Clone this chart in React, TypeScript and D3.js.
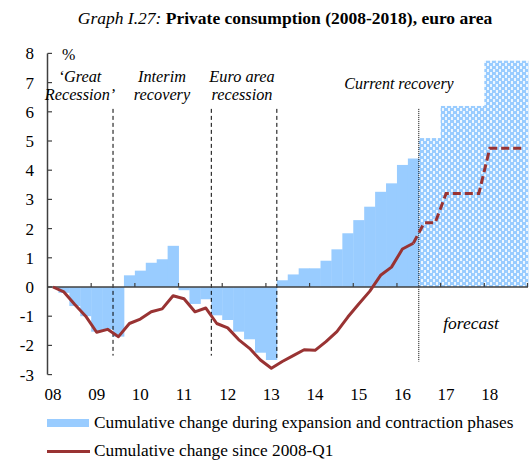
import React from "react";
import * as d3 from "d3";

// ---- data ----
const years = ["08", "09", "10", "11", "12", "13", "14", "15", "16", "17", "18"];
const quarters: string[] = years.flatMap((y) => ["Q1", "Q2", "Q3", "Q4"].map((q) => `20${y}${q}`));

// cumulative change during phases (08Q1 .. 16Q2)
const phaseBars = [
  0, -0.2, -0.65, -1.0,
  -1.53, -1.45, -1.7, 0.4,
  0.56, 0.83, 0.95, 1.41,
  -0.11, -0.58, -0.42, -0.97,
  -1.13, -1.53, -1.79, -2.25,
  -2.5, 0.23, 0.43, 0.64,
  0.64, 0.9, 1.29, 1.84,
  2.29, 2.75, 3.26, 3.55,
  4.18, 4.4,
];
// forecast phase bars (16Q3 .. 18Q4)
const forecastBars = [5.1, 5.1, 6.2, 6.2, 6.2, 6.2, 7.75, 7.75, 7.75, 7.75];

// cumulative change since 2008-Q1 (08Q1 .. 16Q2)
const cumLine = [
  0, -0.17, -0.6, -1.0,
  -1.55, -1.45, -1.7, -1.25,
  -1.1, -0.85, -0.75, -0.3,
  -0.4, -0.85, -0.72, -1.25,
  -1.4, -1.8, -2.1, -2.5,
  -2.78, -2.55, -2.35, -2.15,
  -2.17, -1.87, -1.53, -1.03,
  -0.58, -0.15, 0.4, 0.68,
  1.3, 1.5,
];
// forecast line (16Q2 .. 18Q4)
const forecastLine = [1.5, 2.2, 2.2, 3.2, 3.2, 3.2, 3.2, 4.75, 4.75, 4.75, 4.75];

const yTicks = [-3, -2, -1, 0, 1, 2, 3, 4, 5, 6, 7, 8];
// phase boundaries (quarter index where the next phase starts) and the span of the marker line
const phaseBoundaries = [6, 15, 21, 34];
const boundaryBottoms = [-2.35, -2.35, -2.5, -2.55];
const boundaryTop = 6.1;

const phaseLabels = [
  { lines: ["\u2018Great", "Recession\u2019"], x: 80 },
  { lines: ["Interim", "recovery"], x: 162 },
  { lines: ["Euro area", "recession"], x: 242 },
];

const BLUE = "#99CCFF";
const RED = "#993333";
const AXIS = "#404040";
const FONT = "'Liberation Serif', 'Times New Roman', serif";

export default function App() {
  const W = 531, H = 461;
  const x = d3.scaleBand<number>().domain(d3.range(quarters.length)).range([47.5, 528]).padding(0);
  const y = d3.scaleLinear().domain([-3, 8]).range([374.6, 53.4]);
  const bw = x.bandwidth();
  const cx = (i: number) => (x(i) as number) + bw / 2;

  const lineGen = d3.line<[number, number]>().x((d) => cx(d[0])).y((d) => y(d[1]));
  const actualPts: [number, number][] = cumLine.map((v, i) => [i, v]);
  const fStart = cumLine.length - 1;
  const forecastPts: [number, number][] = forecastLine.map((v, i) => [fStart + i, v]);

  const barRect = (v: number, i: number) => {
    const y0 = y(0), y1 = y(v);
    return { x: x(i) as number, y: Math.min(y0, y1), w: bw + 0.4, h: Math.abs(y1 - y0) };
  };

  return (
    <svg width={W} height={H} style={{ position: "absolute", left: 0, top: 0, fontFamily: FONT }}>
      <defs>
        <pattern id="chk" width="6" height="6" patternUnits="userSpaceOnUse">
          <rect width="6" height="6" fill="#eef7ff" />
          <rect x="0" y="0" width="3" height="3" fill={BLUE} />
          <rect x="3" y="3" width="3" height="3" fill={BLUE} />
          <rect x="3" y="0" width="1" height="3" fill={BLUE} />
          <rect x="0" y="3" width="1" height="3" fill={BLUE} />
        </pattern>
      </defs>
      <rect width={W} height={H} fill="#fff" />

      {/* title */}
      <text x={285} y={24} textAnchor="middle" fontSize={17.5} fill="#000">
        <tspan fontStyle="italic">Graph I.27:</tspan>
        <tspan fontWeight="bold"> Private consumption (2008-2018), euro area</tspan>
      </text>

      {/* bars */}
      {phaseBars.map((v, i) => {
        const r = barRect(v, i);
        return <rect key={"b" + i} x={r.x} y={r.y} width={r.w} height={r.h} fill={BLUE} />;
      })}
      {forecastBars.map((v, k) => {
        const i = phaseBars.length + k;
        const r = barRect(v, i);
        return <rect key={"f" + i} x={r.x} y={r.y} width={r.w} height={r.h} fill="url(#chk)" />;
      })}

      {/* phase boundary markers */}
      {phaseBoundaries.map((b, k) => (
        <line
          key={"pb" + k}
          x1={x(b) as number}
          x2={x(b) as number}
          y1={y(boundaryTop)}
          y2={y(boundaryBottoms[k])}
          stroke="#000"
          strokeWidth={1}
          strokeDasharray={k === 3 ? "1,1" : "4,3"}
        />
      ))}

      {/* axes */}
      <line x1={47.5} x2={47.5} y1={y(8)} y2={y(-3)} stroke={AXIS} strokeWidth={1.5} />
      {yTicks.map((t) => (
        <g key={"yt" + t}>
          <line x1={47.5} x2={52} y1={y(t)} y2={y(t)} stroke={AXIS} strokeWidth={1.2} />
          <text x={34} y={y(t)} dy="0.35em" textAnchor="end" fontSize={17} fill="#000">
            {t}
          </text>
        </g>
      ))}
      <line x1={47.5} x2={528} y1={y(0)} y2={y(0)} stroke={AXIS} strokeWidth={1.5} />
      {years.map((yr, k) => {
        const i = k * 4;
        return (
          <g key={"xt" + yr}>
            {k > 0 && (
              <line x1={x(i) as number} x2={x(i) as number} y1={y(0)} y2={y(0) - 4} stroke={AXIS} strokeWidth={1.2} />
            )}
            <text x={cx(i)} y={400} textAnchor="middle" fontSize={17} fill="#000">
              {yr}
            </text>
          </g>
        );
      })}
      <line x1={527.5} x2={527.5} y1={y(0)} y2={y(0) - 4} stroke={AXIS} strokeWidth={1.2} />

      {/* lines */}
      <path d={lineGen(forecastPts) || ""} fill="none" stroke={RED} strokeWidth={3} strokeDasharray="8,4" />
      <path d={lineGen(actualPts) || ""} fill="none" stroke={RED} strokeWidth={3} strokeLinejoin="round" />

      {/* annotations */}
      <text x={62} y={60} fontSize={16} fill="#000">%</text>
      {phaseLabels.map((p, k) => (
        <text key={"pl" + k} x={p.x} textAnchor="middle" fontSize={16.3} fontStyle="italic" fill="#000">
          <tspan x={p.x} y={82}>{p.lines[0]}</tspan>
          <tspan x={p.x} y={100}>{p.lines[1]}</tspan>
        </text>
      ))}
      <text x={399} y={89} textAnchor="middle" fontSize={16} fontStyle="italic" fill="#000">Current recovery</text>
      <text x={471} y={329} textAnchor="middle" fontSize={17.5} fontStyle="italic" fill="#000">forecast</text>

      {/* legend */}
      <rect x={47} y={419} width={42} height={8} fill={BLUE} />
      <text x={94} y={428} fontSize={17.3} fill="#000">Cumulative change during expansion and contraction phases</text>
      <line x1={47} x2={90} y1={451.5} y2={451.5} stroke={RED} strokeWidth={3} />
      <text x={94} y={456} fontSize={17.3} fill="#000">Cumulative change since 2008-Q1</text>
    </svg>
  );
}
